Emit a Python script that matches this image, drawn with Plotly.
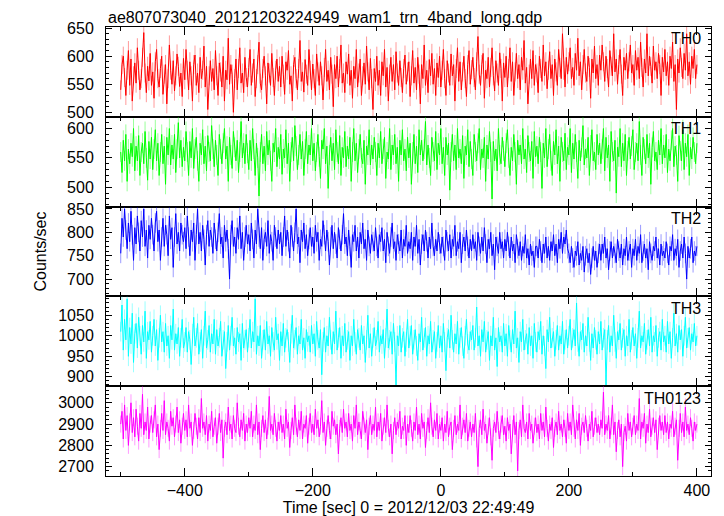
import plotly.graph_objects as go
from plotly.subplots import make_subplots

# time bins (sec), 2-s spacing, -500 .. 400
time_sec = list(range(-500, 401, 2))

th0 = [540, 585, 600, 562, 530, 575, 610, 548, 595, 520, 565, 588, 552, 615, 575, 540, 560, 598, 642, 570, 535, 582, 556, 605, 548,
       572, 525, 590, 612, 560, 545, 578, 600, 532, 568, 585, 515, 560, 620, 575, 550, 592, 538, 565, 604, 582, 546, 570, 528, 596,
       558, 612, 575, 540, 590, 565, 520, 585, 602, 548, 570, 535, 598, 560, 575, 618, 545, 582, 505, 565, 592, 555, 578, 540, 610,
       565, 530, 588, 572, 545, 600, 520, 575, 558, 632, 550, 585, 568, 500, 560, 595, 540, 578, 615, 552, 570, 535, 598, 562, 545,
       580, 612, 548, 570, 595, 528, 560, 585, 625, 552, 540, 578, 600, 565, 515, 588, 570, 548, 605, 562, 530, 575, 595, 555, 582,
       545, 600, 568, 532, 590, 575, 610, 550, 565, 520, 585, 598, 560, 540, 578, 628, 555, 572, 536, 594, 568, 548, 612, 575, 540,
       586, 560, 530, 604, 572, 548, 590, 565, 522, 580, 612, 555, 575, 540, 598, 568, 510, 585, 560, 600, 545, 578, 620, 552, 570,
       535, 590, 568, 604, 548, 575, 525, 582, 560, 612, 545, 570, 595, 530, 565, 588, 550, 618, 572, 540, 596, 560, 505, 578, 555,
       600, 548, 575, 530, 590, 565, 612, 545, 580, 520, 568, 598, 555, 585, 540, 608, 570, 548, 592, 562, 535, 578, 602, 550, 572,
       590, 528, 565, 610, 552, 580, 540, 598, 568, 515, 585, 560, 620, 548, 575, 535, 594, 565, 605, 550, 578, 530, 588, 562, 600,
       545, 575, 612, 560, 530, 592, 570, 548, 604, 565, 585, 520, 578, 615, 555, 590, 540, 572, 600, 560, 528, 585, 610, 550, 576,
       598, 562, 540, 590, 635, 568, 548, 585, 605, 525, 575, 560, 598, 545, 580, 615, 565, 538, 592, 570, 548, 606, 578, 520, 588,
       562, 600, 545, 578, 615, 555, 590, 530, 572, 605, 560, 585, 540, 598, 575, 628, 552, 580, 515, 568, 595, 560, 610, 548, 585,
       570, 535, 600, 578, 555, 620, 565, 590, 542, 575, 608, 560, 585, 530, 595, 572, 548, 612, 580, 560, 640, 575, 545, 598, 568,
       590, 615, 560, 580, 548, 605, 575, 632, 565, 590, 540, 585, 612, 570, 555, 600, 580, 525, 595, 570, 618, 560, 585, 548, 602,
       575, 620, 590, 555, 600, 578, 545, 610, 582, 565, 640, 572, 595, 550, 585, 612, 568, 530, 598, 575, 605, 560, 590, 620, 570,
       585, 548, 610, 575, 598, 560, 625, 580, 545, 595, 570, 640, 565, 600, 582, 552, 618, 575, 590, 560, 605, 585, 530, 598, 572,
       612, 565, 590, 548, 600, 578, 625, 555, 585, 505, 595, 570, 615, 580, 560, 605, 575, 640, 565, 590, 550, 600, 578, 612, 560,
       585]

th1 = [560, 525, 580, 545, 590, 510, 565, 540, 575, 552, 600, 528, 570, 545, 588, 520, 560, 575, 540, 595, 550, 512, 578, 548, 585,
       530, 565, 598, 545, 575, 520, 560, 590, 540, 570, 505, 585, 555, 600, 538, 572, 548, 590, 525, 565, 610, 550, 580, 535, 568,
       545, 595, 560, 520, 578, 550, 600, 532, 565, 585, 545, 510, 575, 555, 598, 540, 570, 528, 588, 560, 545, 605, 565, 535, 580,
       555, 520, 590, 565, 540, 575, 600, 548, 570, 510, 585, 555, 532, 595, 568, 545, 580, 525, 560, 612, 550, 575, 540, 590, 558,
       530, 580, 545, 600, 565, 520, 575, 550, 485, 560, 590, 540, 570, 528, 595, 555, 580, 545, 510, 575, 560, 600, 535, 568, 548,
       590, 522, 565, 550, 598, 540, 575, 510, 560, 585, 545, 605, 570, 530, 555, 590, 548, 578, 520, 565, 595, 540, 572, 555, 600,
       545, 575, 528, 560, 590, 552, 515, 580, 565, 600, 540, 570, 498, 555, 585, 545, 575, 530, 598, 560, 540, 588, 520, 568, 550,
       595, 535, 570, 548, 585, 510, 560, 600, 545, 575, 525, 565, 590, 550, 540, 580, 505, 570, 555, 598, 538, 572, 548, 585, 560,
       520, 575, 550, 595, 540, 565, 585, 515, 560, 548, 600, 530, 572, 555, 590, 540, 568, 510, 580, 555, 598, 545, 565, 528, 585,
       550, 575, 505, 560, 590, 540, 570, 525, 598, 555, 580, 545, 565, 612, 538, 572, 550, 520, 585, 560, 545, 595, 530, 575, 555,
       600, 540, 568, 520, 585, 555, 575, 495, 560, 590, 545, 572, 530, 600, 550, 565, 540, 588, 515, 570, 555, 598, 535, 578, 548,
       520, 590, 560, 545, 575, 600, 530, 565, 550, 585, 510, 572, 548, 595, 560, 480, 578, 545, 565, 528, 600, 555, 540, 585, 562,
       535, 575, 598, 550, 520, 568, 545, 590, 560, 505, 580, 555, 572, 540, 600, 548, 565, 525, 588, 560, 545, 578, 515, 595, 552,
       570, 540, 585, 560, 498, 575, 550, 600, 535, 565, 590, 545, 520, 578, 555, 598, 540, 570, 510, 585, 560, 545, 592, 530, 568,
       555, 600, 525, 575, 548, 590, 560, 515, 580, 545, 568, 605, 538, 565, 550, 585, 520, 572, 598, 545, 560, 530, 590, 555, 575,
       540, 565, 600, 528, 585, 550, 572, 510, 595, 560, 545, 580, 490, 568, 552, 600, 535, 575, 545, 590, 520, 562, 585, 548, 570,
       598, 530, 560, 575, 545, 612, 555, 520, 585, 565, 540, 590, 550, 575, 505, 568, 595, 545, 560, 530, 580, 555, 600, 540, 572,
       550, 590, 525, 565, 545, 580, 600, 535, 570, 555, 510, 588, 562, 545, 598, 530, 575, 552, 590, 520, 568, 548, 585, 560, 540,
       575]

th2 = [755, 830, 790, 850, 805, 765, 820, 780, 845, 795, 740, 810, 775, 835, 800, 760, 825, 790, 850, 770, 805, 745, 815, 785, 830,
       795, 760, 820, 845, 780, 805, 740, 790, 830, 770, 815, 795, 750, 835, 785, 810, 725, 790, 840, 775, 800, 760, 820, 795, 780,
       810, 765, 835, 790, 750, 805, 780, 820, 740, 795, 850, 775, 800, 760, 815, 785, 730, 795, 825, 770, 805, 790, 755, 820, 785,
       760, 800, 840, 775, 790, 745, 815, 780, 805, 765, 700, 795, 825, 770, 790, 755, 810, 785, 835, 765, 800, 740, 790, 815, 775,
       795, 760, 820, 785, 745, 805, 775, 850, 790, 765, 810, 740, 785, 800, 770, 825, 755, 795, 780, 740, 815, 790, 765, 805, 775,
       800, 750, 790, 835, 770, 805, 780, 745, 815, 790, 760, 800, 850, 775, 790, 735, 805, 780, 820, 765, 795, 750, 785, 810, 770,
       790, 755, 815, 780, 800, 740, 785, 770, 825, 795, 760, 805, 780, 730, 790, 815, 765, 800, 775, 745, 810, 785, 760, 795, 840,
       775, 790, 750, 805, 770, 725, 795, 780, 815, 760, 790, 745, 800, 775, 820, 765, 785, 740, 805, 770, 755, 795, 780, 760, 810,
       770, 745, 795, 780, 810, 760, 785, 735, 800, 770, 755, 790, 820, 765, 780, 740, 795, 775, 760, 805, 745, 785, 770, 815, 755,
       780, 765, 800, 740, 790, 770, 815, 755, 785, 730, 775, 795, 760, 805, 780, 745, 790, 765, 820, 770, 750, 785, 760, 800, 775,
       755, 790, 770, 740, 805, 780, 760, 795, 745, 785, 770, 815, 750, 780, 765, 800, 735, 775, 790, 760, 805, 770, 745, 785, 760,
       795, 765, 780, 740, 800, 770, 755, 790, 760, 810, 775, 735, 785, 765, 800, 750, 775, 720, 790, 770, 755, 800, 765, 780, 745,
       785, 760, 800, 770, 745, 790, 760, 775, 735, 795, 765, 750, 780, 740, 770, 755, 795, 745, 765, 730, 775, 750, 760, 725, 770,
       770, 745, 785, 760, 735, 775, 755, 790, 745, 770, 740, 780, 760, 795, 750, 775, 735, 785, 765, 800, 755, 790, 775, 805, 765,
       755, 735, 770, 745, 725, 760, 750, 780, 730, 755, 740, 770, 715, 750, 765, 735, 755, 710, 745, 770, 740, 760, 725, 755, 775,
       740, 775, 755, 790, 745, 765, 720, 760, 780, 745, 770, 755, 735, 785, 760, 745, 775, 730, 765, 750, 790, 740, 760, 775, 725,
       765, 750, 785, 740, 770, 755, 795, 735, 760, 775, 745, 765, 720, 780, 755, 740, 770, 760, 790, 745, 765, 730, 775, 750, 760,
       745, 780, 755, 730, 770, 760, 795, 740, 765, 750, 785, 725, 760, 775, 745, 790, 755, 700, 770, 745, 765, 790, 735, 760, 750,
       770]

th3 = [1010, 1075, 965, 1040, 990, 1090, 950, 1020, 980, 1055, 935, 1005, 1030, 970, 1045, 1000, 955, 1025, 985, 1060, 945, 1010, 990, 1035, 960,
       1000, 1040, 975, 1015, 940, 995, 1050, 985, 1010, 960, 1030, 975, 1000, 945, 1025, 990, 1065, 965, 1005, 980, 1020, 950, 995, 1040, 970,
       985, 1020, 960, 1010, 990, 930, 1005, 1045, 975, 995, 1030, 955, 985, 1015, 945, 1000, 1060, 970, 990, 1025, 960, 1005, 980, 1040, 955,
       1015, 975, 995, 1035, 950, 990, 1010, 920, 985, 1025, 965, 1000, 1045, 975, 995, 955, 1020, 985, 1005, 940, 1030, 970, 990, 1015, 960,
       995, 1040, 970, 1010, 985, 1090, 955, 1000, 975, 1025, 945, 990, 1015, 965, 1035, 980, 1000, 950, 1020, 985, 965, 1045, 990, 1005, 940,
       1010, 975, 1030, 960, 995, 1015, 985, 935, 1005, 1050, 970, 990, 1020, 955, 1000, 980, 1040, 965, 995, 945, 1015, 985, 1000, 960, 1025,
       980, 1005, 950, 1035, 990, 970, 1015, 905, 985, 1020, 960, 1000, 975, 1045, 990, 955, 1010, 980, 1060, 965, 995, 1020, 945, 1000, 975,
       1030, 960, 990, 1010, 940, 1000, 975, 1040, 985, 955, 1015, 995, 965, 1025, 980, 1000, 935, 990, 1050, 970, 1005, 950, 995, 1020, 975,
       990, 1035, 960, 1000, 980, 1015, 945, 995, 1065, 970, 990, 1010, 955, 1030, 985, 880, 1000, 975, 1025, 960, 995, 1010, 950, 985, 1040,
       970, 1000, 1025, 955, 990, 1015, 975, 940, 1005, 985, 1045, 965, 995, 1020, 950, 1000, 980, 1035, 960, 990, 1010, 945, 985, 1025, 970,
       1000, 960, 1030, 985, 915, 995, 1015, 970, 1050, 990, 960, 1005, 980, 1035, 955, 995, 1020, 975, 945, 1000, 1040, 980, 965, 1010, 990,
       1025, 965, 995, 1070, 975, 1000, 950, 1015, 985, 1035, 960, 990, 1010, 940, 1000, 975, 1045, 965, 995, 925, 1020, 985, 1000, 960, 1030,
       975, 1005, 950, 1025, 990, 960, 1015, 980, 1060, 970, 995, 935, 1010, 985, 1040, 965, 990, 1005, 955, 1020, 975, 1000, 945, 1030, 985,
       960, 1010, 990, 1035, 955, 1000, 975, 920, 1015, 985, 1045, 970, 995, 1010, 950, 990, 1025, 965, 1000, 980, 1035, 955, 990, 1015, 970,
       1000, 1040, 965, 995, 1015, 975, 1080, 985, 950, 1010, 990, 1030, 960, 1000, 975, 1045, 985, 940, 1005, 970, 1020, 990, 955, 1010, 980,
       1035, 965, 995, 1015, 880, 990, 1025, 960, 1000, 975, 1050, 985, 945, 1010, 990, 1030, 965, 995, 1015, 950, 1000, 975, 1040, 960, 990,
       1020, 975, 1005, 945, 995, 1060, 970, 1000, 985, 1030, 955, 990, 1015, 975, 1045, 960, 1000, 985, 1025, 950, 995, 1010, 965, 1040, 985,
       1000, 960, 1035, 980, 1010, 945, 995, 1055, 975, 1005, 960, 1025, 990, 1015, 950, 1000, 1045, 970, 995, 1020, 965, 1005, 985, 1030, 975,
       1000]

th0123 = [2900, 2960, 2830, 2990, 2870, 2940, 2800, 2910, 3000, 2860, 2930, 2840, 2970, 2890, 2820, 2950, 2880, 3040, 2850, 2910, 2870, 2980, 2830, 2900, 2940,
          2860, 2920, 2990, 2840, 2900, 2780, 2880, 2950, 2870, 3010, 2850, 2910, 2880, 2820, 2960, 2890, 2930, 2840, 2900, 2980, 2860, 2920, 2810, 2890, 2950,
          2870, 2920, 2840, 2990, 2880, 2910, 2800, 2870, 2950, 2890, 2830, 2930, 2860, 3020, 2880, 2910, 2850, 2940, 2820, 2900, 2870, 2960, 2840, 2890, 2930,
          2810, 2890, 2950, 2860, 2920, 2740, 2880, 2910, 2850, 2980, 2870, 2900, 2830, 2940, 2880, 2860, 3000, 2890, 2840, 2920, 2870, 2950, 2820, 2900, 2860,
          2930, 2880, 2960, 2840, 2900, 2870, 2990, 2850, 2910, 2780, 2880, 2940, 2860, 2920, 2830, 2890, 3030, 2870, 2900, 2850, 2950, 2880, 2820, 2910, 2870,
          2940, 2860, 2900, 2830, 2970, 2880, 2910, 2790, 2870, 2930, 2850, 2990, 2890, 2840, 2920, 2870, 2960, 2830, 2900, 2880, 2940, 2810, 2890, 2950, 2860,
          2900, 2850, 2970, 2880, 2920, 2840, 2890, 3010, 2860, 2910, 2800, 2880, 2940, 2870, 2830, 2960, 2890, 2920, 2850, 2900, 2760, 2880, 2930, 2860, 2970,
          2880, 2910, 2840, 2950, 2870, 2900, 2820, 2940, 2880, 2990, 2850, 2910, 2870, 2830, 2960, 2890, 2860, 2920, 2780, 2890, 2940, 2850, 2900, 2870, 2980,
          2840, 2910, 2870, 2950, 2820, 2890, 2930, 2860, 2990, 2880, 2840, 2900, 2760, 2870, 2930, 2850, 2910, 2880, 2960, 2830, 2890, 2870, 2940, 2800, 2900,
          2860, 2940, 2880, 2820, 2910, 2870, 2980, 2850, 2900, 2830, 2950, 2880, 2910, 2790, 2870, 2930, 2860, 3000, 2890, 2840, 2920, 2870, 2950, 2830, 2900,
          2870, 2930, 2820, 2900, 2860, 2960, 2840, 2890, 2910, 2780, 2880, 2940, 2850, 2900, 2870, 2990, 2830, 2890, 2920, 2860, 2950, 2820, 2880, 2910, 2840,
          2900, 2860, 2950, 2830, 2700, 2880, 2920, 2850, 2970, 2870, 2900, 2810, 2890, 2930, 2840, 2730, 2880, 2910, 2860, 2960, 2870, 2830, 2900, 2940, 2850,
          2890, 2820, 2930, 2870, 2900, 2760, 2880, 2940, 2850, 2910, 2680, 2870, 2920, 2840, 2990, 2880, 2860, 2910, 2830, 2950, 2870, 2900, 2810, 2890, 2930,
          2860, 2900, 2830, 2950, 2870, 2910, 2840, 2980, 2880, 2820, 2900, 2870, 2930, 2790, 2880, 2910, 2850, 2960, 2870, 2900, 2840, 2920, 2880, 2810, 2950,
          2870, 2910, 2850, 2990, 2880, 2830, 2920, 2870, 2950, 2800, 2890, 2910, 2860, 2940, 2880, 2820, 2900, 2870, 2960, 2840, 2890, 2930, 2860, 2900, 2850,
          2920, 2880, 3050, 2850, 2900, 2870, 2940, 2830, 2890, 2990, 2850, 2910, 2770, 2870, 2920, 2840, 2900, 2700, 2860, 2890, 2820, 2950, 2870, 2910, 2840,
          2890, 2940, 2850, 2900, 2870, 3020, 2830, 2910, 2880, 2950, 2810, 2900, 2860, 2970, 2840, 2890, 2930, 2860, 2920, 2780, 2890, 2940, 2870, 2910, 2850,
          2940, 2860, 2910, 2830, 2900, 2880, 2960, 2840, 2890, 2920, 2730, 2880, 2950, 2860, 2910, 2840, 2980, 2870, 2900, 2850, 2930, 2880, 2820, 2910, 2870,
          2900]

panel_names = ["TH0", "TH1", "TH2", "TH3", "TH0123"]
series = [th0, th1, th2, th3, th0123]
colors = ["#ff0000", "#00ff00", "#0000ff", "#00ffff", "#ff00ff"]
err_colors = ["rgba(255,0,0,0.4)", "rgba(0,255,0,0.4)", "rgba(0,0,255,0.4)",
              "rgba(0,255,255,0.4)", "rgba(255,0,255,0.4)"]
errs = [17, 17, 21, 24, 40]
y_ranges = [[492, 652], [467, 620], [663, 855], [877, 1096], [2656, 3078]]
y_ticks = [[500, 550, 600, 650], [500, 550, 600], [700, 750, 800, 850],
           [900, 950, 1000, 1050], [2700, 2800, 2900, 3000]]
y_minor = [10, 10, 10, 10, 20]

FONT = "Liberation Sans, Arial, Helvetica, sans-serif"

# The page body has an 8-px default margin, so the figure is laid out
# 8 px smaller and shifted to land on the reference's pixel grid.
W, H = 716, 508
fig = make_subplots(rows=5, cols=1, shared_xaxes=True, vertical_spacing=0)

for i, (name, ys) in enumerate(zip(panel_names, series)):
    fig.add_trace(go.Scatter(
        x=time_sec, y=ys, mode="lines", name=name,
        line=dict(color=colors[i], width=1),
        error_y=dict(type="constant", value=errs[i], color=err_colors[i],
                     thickness=1, width=0),
        showlegend=False, hoverinfo="x+y"), row=i + 1, col=1)
    fig.update_yaxes(range=y_ranges[i], tickvals=y_ticks[i], row=i + 1, col=1,
                     showline=True, linecolor="black", linewidth=1, mirror="allticks",
                     ticks="inside", ticklen=6, tickcolor="black",
                     minor=dict(ticks="inside", ticklen=3, dtick=y_minor[i], tickcolor="black"),
                     showgrid=False, zeroline=False, automargin=False,
                     tickfont=dict(size=16, color="black", family=FONT),
                     ticklabelstandoff=8)
    fig.add_annotation(text=name, xref="x domain", yref="y domain",
                       x=0.987, y=0.985, xanchor="right", yanchor="top",
                       showarrow=False, font=dict(size=16, color="black", family=FONT),
                       row=i + 1, col=1)

fig.update_xaxes(range=[-523, 422], showline=True, linecolor="black", linewidth=1,
                 mirror="allticks", ticks="inside", ticklen=8, tickcolor="black",
                 tickvals=[-400, -200, 0, 200, 400],
                 minor=dict(ticks="inside", ticklen=4, tickvals=[-500, -300, -100, 100, 300], tickcolor="black"),
                 showgrid=False, zeroline=False, automargin=False,
                 tickfont=dict(size=16, color="black", family=FONT))
fig.update_xaxes(title=dict(text="Time [sec] 0 = 2012/12/03 22:49:49",
                            font=dict(size=16, color="black", family=FONT), standoff=4),
                 row=5, col=1)

fig.add_annotation(text="Counts/sec", xref="paper", yref="paper", x=-0.109, y=0.5,
                   textangle=-90, showarrow=False, xanchor="center", yanchor="middle",
                   font=dict(size=16, color="black", family=FONT))

fig.update_layout(
    width=W, height=H,
    margin=dict(l=98, r=13, t=19, b=40, autoexpand=False),
    paper_bgcolor="white", plot_bgcolor="white",
    title=dict(text="ae807073040_20121203224949_wam1_trn_4band_long.qdp",
               x=100 / W, xanchor="left", y=1 - 9 / H, yanchor="middle",
               font=dict(size=16, color="black", family=FONT)),
)

fig.write_html("out.html")
